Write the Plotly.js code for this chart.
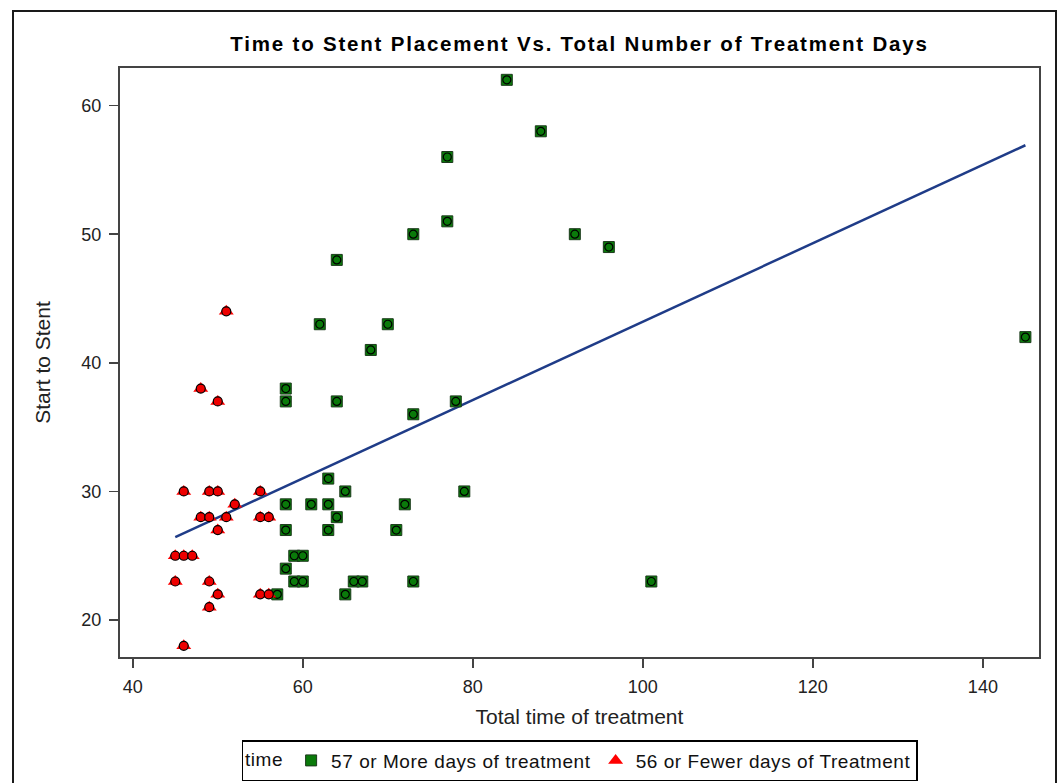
<!DOCTYPE html>
<html>
<head>
<meta charset="utf-8">
<script src="https://cdn.plot.ly/plotly-3.0.1.min.js"></script>
<style>
  html, body { margin: 0; padding: 0; background: #fff; }
  #frame { position: absolute; left: 12px; top: 10px; width: 1045px; height: 790px; border: 2px solid #1a1a1a; box-sizing: border-box; pointer-events: none; z-index: 5; }
  #chart { position: absolute; left: 0; top: 0; width: 1058px; height: 783px; }
  .gtitle { letter-spacing: 1.8px; }
  .legendtext, .legendtitletext { letter-spacing: 0.55px; }
</style>
</head>
<body>
<div id="chart"></div>
<div id="frame"></div>
<script>
// Group: 57 or More days of treatment
const moreX = [84, 88, 77, 77, 73, 92, 96, 64, 62, 70, 145, 68, 58, 58, 64, 78, 73, 63, 65, 79, 58, 61, 63, 72, 64, 58, 63, 71, 59, 60, 58, 59, 60, 66, 67, 73, 101, 57, 65];
const moreY = [62, 58, 56, 51, 50, 50, 49, 48, 43, 43, 42, 41, 38, 37, 37, 37, 36, 31, 30, 30, 29, 29, 29, 29, 28, 27, 27, 27, 25, 25, 24, 23, 23, 23, 23, 23, 23, 22, 22];
// Group: 56 or Fewer days of Treatment
const fewerX = [51, 48, 50, 46, 49, 50, 55, 52, 48, 49, 51, 55, 56, 50, 45, 46, 47, 45, 49, 50, 55, 56, 49, 46];
const fewerY = [44, 38, 37, 30, 30, 30, 30, 29, 28, 28, 28, 28, 28, 27, 25, 25, 25, 23, 23, 22, 22, 22, 21, 18];

const seriesNames = ["57 or More days of treatment", "56 or Fewer days of Treatment"];
const xTicks = [40, 60, 80, 100, 120, 140];
const yTicks = [20, 30, 40, 50, 60];

// Linear regression over all points
const allX = moreX.concat(fewerX);
const allY = moreY.concat(fewerY);
const n = allX.length;
const mx = allX.reduce((a, b) => a + b, 0) / n;
const my = allY.reduce((a, b) => a + b, 0) / n;
let sxy = 0, sxx = 0;
for (let i = 0; i < n; i++) { sxy += (allX[i] - mx) * (allY[i] - my); sxx += (allX[i] - mx) ** 2; }
const slope = sxy / sxx;
const icpt = my - slope * mx;
const fitX = [Math.min(...allX), Math.max(...allX)];
const fitY = fitX.map(x => icpt + slope * x);

const FONT = 'Liberation Sans, Arial, sans-serif';

const traces = [
  { x: fitX, y: fitY, mode: 'lines', line: { color: '#1f3c88', width: 2.5 }, showlegend: false, hoverinfo: 'skip' },
  { x: moreX, y: moreY, mode: 'markers', name: seriesNames[0],
    marker: { symbol: 'square', size: 11, color: '#0a7a0a', line: { color: '#1c3a1c', width: 1 } } },
  { x: moreX, y: moreY, mode: 'markers', showlegend: false,
    marker: { symbol: 'circle', size: 8, color: '#0a7a0a', line: { color: '#000', width: 1.2 } } },
  { x: fewerX, y: fewerY, mode: 'markers', name: seriesNames[1],
    marker: { symbol: 'triangle-up', size: 13, color: '#ff0000', line: { color: '#ff0000', width: 0 } } },
  { x: fewerX, y: fewerY, mode: 'markers', showlegend: false,
    marker: { symbol: 'circle', size: 9, color: '#ee0000', line: { color: '#000', width: 1.2 } } }
];

const layout = {
  width: 1058, height: 783,
  margin: { l: 120, r: 19, t: 68, b: 126, autoexpand: false },
  paper_bgcolor: '#fff', plot_bgcolor: '#fff',
  font: { family: FONT, color: '#222', size: 18 },
  title: { text: 'Time to Stent Placement Vs. Total Number of Treatment Days',
           font: { size: 20.5, color: '#000', family: FONT, weight: 'bold' },
           x: 0.5, xref: 'paper', xanchor: 'center', y: 0.944, yanchor: 'middle' },
  xaxis: { range: [38.5, 146.6], tickvals: xTicks, ticks: 'outside', ticklen: 9, tickwidth: 1.5,
           tickcolor: '#444', showgrid: false, zeroline: false, showline: true, linecolor: '#444', linewidth: 2,
           mirror: true, tickfont: { size: 18, color: '#222' }, ticklabelstandoff: 3,
           title: { text: 'Total time of treatment', font: { size: 21, color: '#222' }, standoff: 14 } },
  yaxis: { range: [17.13, 62.92], tickvals: yTicks, ticks: 'outside', ticklen: 9, tickwidth: 1.5,
           tickcolor: '#444', showgrid: false, zeroline: false, showline: true, linecolor: '#444', linewidth: 2,
           mirror: true, tickfont: { size: 18, color: '#222' }, ticklabelstandoff: 4,
           title: { text: 'Start to Stent', font: { size: 21, color: '#222' }, standoff: 25 } },
  legend: { orientation: 'h', x: 0.5, xanchor: 'center', y: -0.141, yanchor: 'top',
            bordercolor: '#000', borderwidth: 1.5, bgcolor: '#fff',
            font: { size: 19, color: '#111' },
            title: { text: 'time', side: 'left', font: { size: 19, color: '#111' } },
            itemwidth: 30, tracegroupgap: 0 },
  showlegend: true
};

Plotly.newPlot('chart', traces, layout, { displayModeBar: false, staticPlot: true });
</script>
</body>
</html>
